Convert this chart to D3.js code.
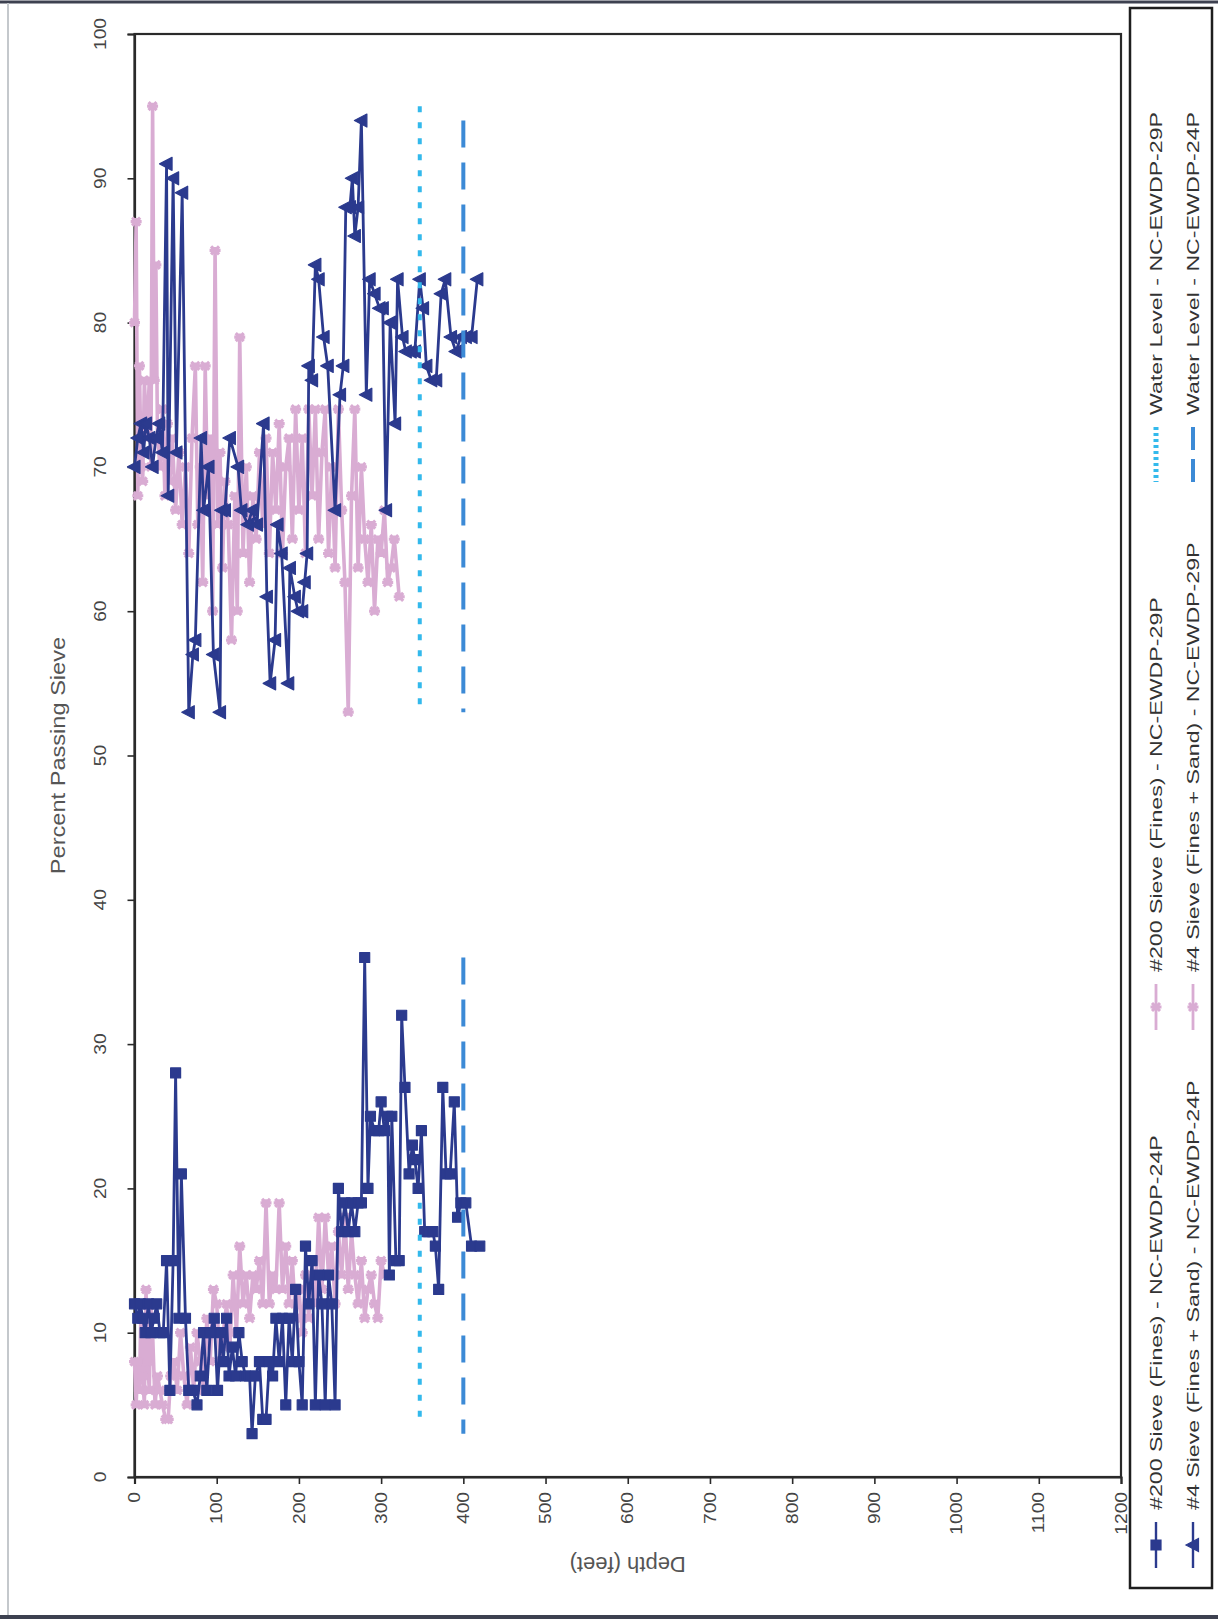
<!DOCTYPE html>
<html><head><meta charset="utf-8">
<script src="https://cdn.jsdelivr.net/npm/d3@7"></script>
<style>body{margin:0;background:#fff}svg{display:block}</style>
</head><body>
<svg id="chart" width="1218" height="1622"></svg>
<script>
// ---------- DATA (depth in feet, percent passing) ----------
const xTicks = [0,100,200,300,400,500,600,700,800,900,1000,1100,1200];
const yTicks = [0,10,20,30,40,50,60,70,80,90,100];
const xTitle = "Depth (feet)";
const yTitle = "Percent Passing Sieve";
const legendLabels = [
  "#200 Sieve (Fines) - NC-EWDP-24P",
  "#4 Sieve (Fines + Sand) - NC-EWDP-24P",
  "#200 Sieve (Fines) - NC-EWDP-29P",
  "#4 Sieve (Fines + Sand) - NC-EWDP-29P",
  "Water Level - NC-EWDP-29P",
  "Water Level - NC-EWDP-24P"
];

const sieve200_24P = [[0,12],[4,11],[7,12],[10,11],[13,10],[17,12],[20,10],[24,11],[27,12],[31,10],[35,10],[39,15],[43,6],[47,15],[50,28],[54,11],[57,21],[62,11],[66,6],[71,6],[76,5],[80,7],[84,10],[88,6],[92,10],[97,11],[101,6],[105,10],[108,8],[112,11],[115,7],[119,9],[123,7],[127,10],[131,8],[135,7],[140,7],[143,3],[147,7],[152,8],[156,4],[160,4],[164,8],[168,7],[172,11],[176,8],[180,11],[184,5],[188,11],[192,8],[196,13],[200,8],[204,5],[208,16],[212,12],[216,15],[220,5],[224,14],[228,12],[232,5],[236,14],[240,12],[244,5],[248,20],[252,17],[256,19],[260,17],[264,19],[268,17],[272,19],[276,19],[280,36],[284,20],[287,25],[292,24],[297,24],[300,26],[304,24],[308,25],[310,14],[313,25],[318,15],[322,15],[325,32],[329,27],[334,21],[338,23],[341,22],[345,20],[349,24],[353,17],[358,17],[363,17],[366,16],[370,13],[375,27],[379,21],[384,21],[389,26],[393,18],[397,19],[403,19],[410,16],[420,16]];

const sieve4_24P = [[0,70],[4,72],[8,73],[11,71],[14,73],[18,72],[22,70],[26,72],[30,73],[34,71],[39,91],[41,68],[47,90],[51,71],[58,89],[66,53],[71,57],[74,58],[81,72],[84,67],[90,70],[96,57],[104,53],[106,67],[110,67],[116,72],[126,70],[130,67],[138,66],[143,67],[149,66],[157,73],[161,61],[165,55],[171,58],[174,66],[179,64],[187,55],[189,63],[195,61],[199,60],[204,60],[207,62],[210,64],[212,77],[216,76],[220,84],[224,83],[230,79],[235,77],[244,67],[250,75],[254,77],[257,88],[262,88],[265,90],[268,86],[272,88],[276,94],[282,75],[286,83],[292,82],[298,81],[302,81],[306,67],[311,80],[317,73],[320,83],[326,79],[330,78],[336,78],[341,78],[347,83],[351,81],[355,77],[361,76],[367,76],[373,82],[378,83],[385,79],[391,78],[397,79],[403,79],[410,79],[417,83]];

const sieve200_29P = [[0,8],[2,5],[4,8],[6,6],[8,12],[10,7],[12,5],[14,13],[16,8],[18,6],[20,12],[22,10],[25,5],[28,7],[31,6],[34,5],[38,4],[41,4],[44,7],[48,8],[52,6],[56,10],[60,7],[64,5],[68,9],[72,6],[76,10],[80,8],[84,6],[88,11],[92,8],[96,13],[100,12],[104,8],[108,10],[112,12],[116,9],[120,14],[124,10],[128,16],[132,12],[136,14],[140,11],[144,14],[148,13],[152,15],[156,12],[160,19],[164,12],[168,14],[172,13],[176,19],[180,13],[184,16],[188,12],[192,15],[196,11],[200,13],[204,10],[208,14],[212,11],[216,15],[220,12],[224,18],[228,13],[232,18],[236,14],[240,16],[244,12],[248,17],[252,14],[256,18],[260,13],[264,17],[268,14],[272,12],[276,15],[280,11],[284,13],[288,14],[292,12],[296,11],[300,15],[304,14]];

const sieve4_29P = [[0,80],[2,87],[4,68],[6,77],[8,70],[10,69],[12,76],[15,72],[18,76],[20,70],[22,95],[24,76],[26,84],[28,72],[31,70],[34,74],[37,68],[40,73],[43,69],[46,72],[50,67],[54,71],[58,66],[62,70],[66,64],[70,72],[74,77],[77,66],[80,70],[83,62],[86,77],[89,68],[92,72],[95,60],[98,85],[101,66],[104,71],[107,63],[110,69],[114,66],[118,58],[122,68],[125,60],[128,79],[132,64],[136,70],[140,62],[144,68],[148,65],[152,71],[156,66],[160,72],[164,64],[168,71],[172,67],[176,73],[180,64],[184,70],[188,72],[192,65],[196,74],[200,67],[204,72],[208,64],[212,74],[216,68],[220,74],[224,65],[228,71],[232,74],[236,64],[240,70],[244,63],[248,74],[252,67],[256,62],[260,53],[264,68],[268,74],[272,63],[276,70],[280,65],[284,62],[288,66],[292,60],[296,65],[300,64],[304,67],[308,62],[312,63],[316,65],[322,61]];

const water29P_upper = [[347,95],[347,53]];
const water29P_lower = [[347,19],[347,4]];
const water24P_upper = [[400,94],[400,53]];
const water24P_lower = [[400,36],[400,3]];

// ---------- STYLE ----------
const NAVY = "#2b3a8e", PINK = "#d9acd3", CYAN = "#33b9ec", BLUE = "#3c8ad6";
const svg = d3.select("#chart");
const L = 134.5, R = 1121, T = 34, B = 1477;
const x = d3.scaleLinear().domain([0,1200]).range([L,R]);
const y = d3.scaleLinear().domain([0,100]).range([B,T]);

// outer frame
svg.append("line").attr("x1",0).attr("x2",1218).attr("y1",2).attr("y2",2).attr("stroke","#3d4150").attr("stroke-width",3);
svg.append("line").attr("x1",0).attr("x2",1218).attr("y1",1617).attr("y2",1617).attr("stroke","#3d4150").attr("stroke-width",4);
svg.append("line").attr("x1",8).attr("x2",8).attr("y1",3).attr("y2",1615).attr("stroke","#c4c8cc").attr("stroke-width",2);

// plot area border
svg.append("rect").attr("x",L).attr("y",T).attr("width",R-L).attr("height",B-T)
  .attr("fill","none").attr("stroke","#2a2a2a").attr("stroke-width",2.2);

// axes (ticks from d3 axes; labels drawn rotated)
const yAxis = svg.append("g").attr("transform",`translate(${L},0)`)
  .call(d3.axisLeft(y).tickValues(yTicks).tickSize(7).tickFormat(""));
const xAxis = svg.append("g").attr("transform",`translate(0,${B})`)
  .call(d3.axisBottom(x).tickValues(xTicks).tickSize(7).tickFormat(""));
[yAxis,xAxis].forEach(g=>{g.select(".domain").attr("stroke","#2a2a2a").attr("stroke-width",2.2);
  g.selectAll(".tick line").attr("stroke","#2a2a2a").attr("stroke-width",1.6);});

const font = "Liberation Sans, Arial, sans-serif";
svg.append("g").selectAll("text").data(yTicks).join("text")
  .attr("transform",d=>`translate(100,${y(d)}) rotate(-90) scale(1.2,1)`)
  .attr("text-anchor","middle").attr("dy","0.35em")
  .attr("font-family",font).attr("font-size",16).attr("fill","#444").text(d=>d);
svg.append("g").selectAll("text").data(xTicks).join("text")
  .attr("transform",d=>`translate(${x(d)},1492) rotate(-90) scale(1.2,1)`)
  .attr("text-anchor","end").attr("dy","0.35em")
  .attr("font-family",font).attr("font-size",16).attr("fill","#444").text(d=>d);

svg.append("text").attr("transform",`translate(58,${(T+B)/2}) rotate(-90) scale(1.18,1)`)
  .attr("text-anchor","middle").attr("dy","0.35em")
  .attr("font-family",font).attr("font-size",20).attr("fill","#555").text(yTitle);
svg.append("text").attr("transform",`translate(${(L+R)/2},1565) rotate(180)`)
  .attr("text-anchor","middle").attr("dy","0.35em")
  .attr("font-family",font).attr("font-size",22).attr("fill","#555").text(xTitle);

// marker shapes
const squarePath = "M-5,-5H5V5H-5Z";
const triPath = "M-7,0L5.5,-6.5L5.5,6.5Z";
const starPath = "M-5.5,0H5.5M-4,-4L4,4M-4,4L4,-4M0,-3.5V3.5";

const line = d3.line().x(d=>x(d[0])).y(d=>y(d[1]));
function drawSeries(data,color,width,path,markerStroke){
  const g = svg.append("g");
  g.append("path").datum(data).attr("d",line).attr("fill","none")
    .attr("stroke",color).attr("stroke-width",width).attr("stroke-linejoin","round");
  g.selectAll("path.m").data(data).join("path").attr("class","m")
    .attr("transform",d=>`translate(${x(d[0])},${y(d[1])})`).attr("d",path)
    .attr("fill",markerStroke?"none":color).attr("stroke",color)
    .attr("stroke-width",markerStroke?3.2:1.2).attr("stroke-linejoin","round");
}
drawSeries(sieve4_29P,PINK,3.6,starPath,true);
drawSeries(sieve200_29P,PINK,3.6,starPath,true);
drawSeries(sieve4_24P,NAVY,2.8,triPath,false);
drawSeries(sieve200_24P,NAVY,2.8,squarePath,false);

// water levels
[[water29P_upper,CYAN,"6,10"],[water29P_lower,CYAN,"6,10"],[water24P_upper,BLUE,"27,15"],[water24P_lower,BLUE,"27,15"]]
 .forEach(([d,c,da])=>{
  svg.append("path").datum(d).attr("d",line).attr("fill","none").attr("stroke",c)
    .attr("stroke-width",4).attr("stroke-dasharray",da);
 });

// legend
svg.append("rect").attr("x",1130).attr("y",8).attr("width",82).attr("height",1580)
  .attr("fill","#fff").attr("stroke","#1e1e1e").attr("stroke-width",2.5);
const legendItems = [
  {col:1156, top:1522, label:legendLabels[0], color:NAVY, kind:"sq"},
  {col:1193, top:1522, label:legendLabels[1], color:NAVY, kind:"tri"},
  {col:1156, top:984, label:legendLabels[2], color:PINK, kind:"star"},
  {col:1193, top:984, label:legendLabels[3], color:PINK, kind:"star"},
  {col:1156, top:427, label:legendLabels[4], color:CYAN, kind:"dot"},
  {col:1193, top:427, label:legendLabels[5], color:BLUE, kind:"dash"}
];
legendItems.forEach(it=>{
  const g = svg.append("g");
  const y1 = it.top, y2 = it.top+(it.kind==="dot"||it.kind==="dash"?55:46), cy=(y1+y2)/2;
  if(it.kind==="dot"){
    g.append("line").attr("x1",it.col).attr("x2",it.col).attr("y1",y1).attr("y2",y2)
      .attr("stroke",it.color).attr("stroke-width",5).attr("stroke-dasharray","3,3");
  } else if(it.kind==="dash"){
    g.append("line").attr("x1",it.col).attr("x2",it.col).attr("y1",y1).attr("y2",y2)
      .attr("stroke",it.color).attr("stroke-width",4).attr("stroke-dasharray","23,9");
  } else {
    g.append("line").attr("x1",it.col).attr("x2",it.col).attr("y1",y1).attr("y2",y2)
      .attr("stroke",it.color).attr("stroke-width",it.kind==="star"?2.8:2.4);
    const p = it.kind==="sq"?squarePath:it.kind==="tri"?triPath:starPath;
    g.append("path").attr("transform",`translate(${it.col},${cy})`).attr("d",p)
      .attr("fill",it.kind==="star"?"none":it.color).attr("stroke",it.color)
      .attr("stroke-width",it.kind==="star"?3:1.2);
  }
  g.append("text").attr("transform",`translate(${it.col},${it.top-12}) rotate(-90) scale(1.45,1)`)
    .attr("text-anchor","start").attr("dy","0.35em")
    .attr("font-family",font).attr("font-size",16).attr("fill","#333").text(it.label);
});
</script>
</body></html>
